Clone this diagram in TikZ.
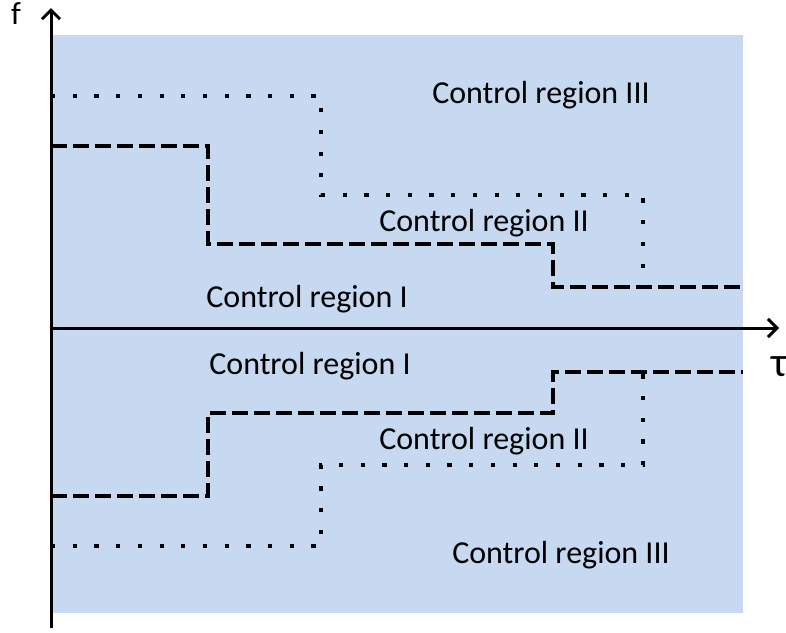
\documentclass[tikz,border=0pt]{standalone}
\usepackage{fontspec}
\setmainfont{Carlito}
\usetikzlibrary{arrows.meta}
\definecolor{regionblue}{RGB}{198,217,240}
\begin{document}
\begin{tikzpicture}[x=1pt,y=-1pt,
  axisline/.style={line width=3pt,-{Straight Barb[length=9pt,width=18pt,line width=3pt]}},
  dashboundary/.style={line width=3.7pt,dash pattern=on 16pt off 6pt,line cap=butt},
  dotboundary/.style={line width=4.2pt,dash pattern=on 4.2pt off 17.5pt,line cap=butt},
  regionlabel/.style={font=\fontsize{32}{38}\selectfont,anchor=base,inner sep=0pt}]
  \useasboundingbox (0,0) rectangle (786,632);
  % shaded working area
  \fill[regionblue] (51,35) rectangle (743,613);

  % axes
  \coordinate (ybottom) at (51,628);
  \coordinate (ytop) at (51,8);
  \coordinate (xleft) at (51,328);
  \coordinate (xright) at (779,328);
  \draw[axisline] (ybottom) -- (ytop);
  \draw[axisline] (xleft) -- (xright);
  \node[regionlabel] (flabel) at (16,24) {f};
  \node[regionlabel,anchor=base west,font=\fontsize{42}{48}\selectfont] (taulabel) at (771,376) {τ};

  % upper boundaries
  \draw[dotboundary] (51,96) -- (321,96) -- (321,195) -- (643,195) -- (643,287);
  \draw[dashboundary] (51,146) -- (208,146) -- (208,244) -- (553,244) -- (553,287) -- (743,287);

  % lower boundaries
  \draw[dashboundary] (51,496) -- (208,496) -- (208,413) -- (553,413) -- (553,372) -- (743,372);
  \draw[dotboundary] (51,546) -- (321,546) -- (321,465) -- (643,465) -- (643,372);

  % region labels
  \node[regionlabel] (r3u) at (541,103) {Control region III};
  \node[regionlabel] (r2u) at (484,231) {Control region II};
  \node[regionlabel] (r1u) at (307,307) {Control region I};
  \node[regionlabel] (r1l) at (310,374) {Control region I};
  \node[regionlabel] (r2l) at (484,449) {Control region II};
  \node[regionlabel] (r3l) at (561,563) {Control region III};
\end{tikzpicture}
\end{document}
